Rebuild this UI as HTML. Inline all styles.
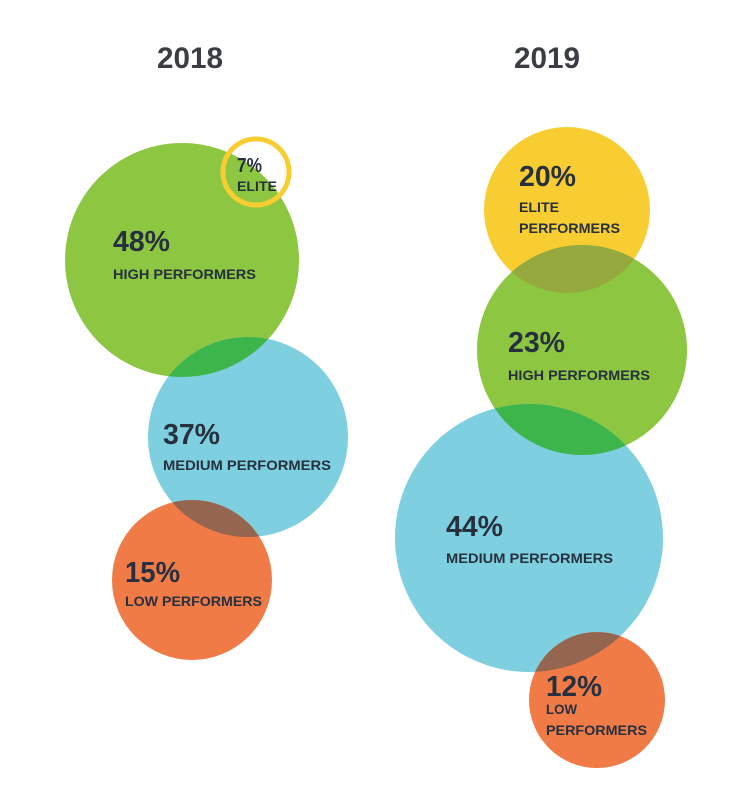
<!DOCTYPE html>
<html><head><meta charset="utf-8"><style>
html,body{margin:0;padding:0;background:#fff;}
svg text{font-family:"Liberation Sans Narrow","Liberation Sans",sans-serif;font-weight:bold;fill:#26303f;}
</style></head><body>
<svg width="738" height="800" viewBox="0 0 738 800" xmlns="http://www.w3.org/2000/svg">
<defs>
<clipPath id="g18"><circle cx="182" cy="260" r="117"/></clipPath>
<clipPath id="b18"><circle cx="248" cy="437" r="100"/></clipPath>
<clipPath id="y19"><circle cx="567" cy="210" r="83"/></clipPath>
<clipPath id="g19"><circle cx="582" cy="350" r="105"/></clipPath>
<clipPath id="b19"><circle cx="529" cy="538" r="134"/></clipPath>
</defs>
<rect width="738" height="800" fill="#fff"/>
<text x="157" y="68" font-size="30" textLength="66" lengthAdjust="spacingAndGlyphs" style="fill:#3a3e44">2018</text>
<text x="514" y="68" font-size="30" textLength="66" lengthAdjust="spacingAndGlyphs" style="fill:#3a3e44">2019</text>

<circle cx="182" cy="260" r="117" fill="#8dc641"/>
<circle cx="248" cy="437" r="100" fill="#7ed0e0"/>
<circle cx="192" cy="580" r="80" fill="#f07b47"/>
<circle cx="248" cy="437" r="100" fill="#3db54a" clip-path="url(#g18)"/>
<circle cx="192" cy="580" r="80" fill="#95664f" clip-path="url(#b18)"/>
<circle cx="256" cy="172" r="33" fill="none" stroke="#f8cd32" stroke-width="5"/>

<circle cx="567" cy="210" r="83" fill="#f8cd32"/>
<circle cx="582" cy="350" r="105" fill="#8dc641"/>
<circle cx="582" cy="350" r="105" fill="#95a93e" clip-path="url(#y19)"/>
<circle cx="529" cy="538" r="134" fill="#7ed0e0"/>
<circle cx="582" cy="350" r="105" fill="#3db54a" clip-path="url(#b19)"/>
<circle cx="597" cy="700" r="68" fill="#f07b47"/>
<circle cx="597" cy="700" r="68" fill="#95664f" clip-path="url(#b19)"/>

<text x="237" y="172" font-size="20" textLength="25" lengthAdjust="spacingAndGlyphs">7%</text>
<text x="237" y="191" font-size="14" textLength="40" lengthAdjust="spacingAndGlyphs">ELITE</text>
<text x="113" y="251" font-size="29" textLength="57" lengthAdjust="spacingAndGlyphs">48%</text>
<text x="113" y="279" font-size="14" textLength="143" lengthAdjust="spacingAndGlyphs">HIGH PERFORMERS</text>
<text x="163" y="444" font-size="29" textLength="57" lengthAdjust="spacingAndGlyphs">37%</text>
<text x="163" y="470" font-size="14" textLength="168" lengthAdjust="spacingAndGlyphs">MEDIUM PERFORMERS</text>
<text x="125" y="582" font-size="29" textLength="55" lengthAdjust="spacingAndGlyphs">15%</text>
<text x="125" y="606" font-size="14" textLength="137" lengthAdjust="spacingAndGlyphs">LOW PERFORMERS</text>

<text x="519" y="186" font-size="29" textLength="57" lengthAdjust="spacingAndGlyphs">20%</text>
<text x="519" y="212" font-size="14" textLength="40" lengthAdjust="spacingAndGlyphs">ELITE</text>
<text x="519" y="233" font-size="14" textLength="101" lengthAdjust="spacingAndGlyphs">PERFORMERS</text>
<text x="508" y="352" font-size="29" textLength="57" lengthAdjust="spacingAndGlyphs">23%</text>
<text x="508" y="380" font-size="14" textLength="142" lengthAdjust="spacingAndGlyphs">HIGH PERFORMERS</text>
<text x="446" y="536" font-size="29" textLength="57" lengthAdjust="spacingAndGlyphs">44%</text>
<text x="446" y="563" font-size="14" textLength="167" lengthAdjust="spacingAndGlyphs">MEDIUM PERFORMERS</text>
<text x="546" y="696" font-size="29" textLength="56" lengthAdjust="spacingAndGlyphs">12%</text>
<text x="546" y="714" font-size="14" textLength="31" lengthAdjust="spacingAndGlyphs">LOW</text>
<text x="546" y="735" font-size="14" textLength="101" lengthAdjust="spacingAndGlyphs">PERFORMERS</text>
</svg>
</body></html>
